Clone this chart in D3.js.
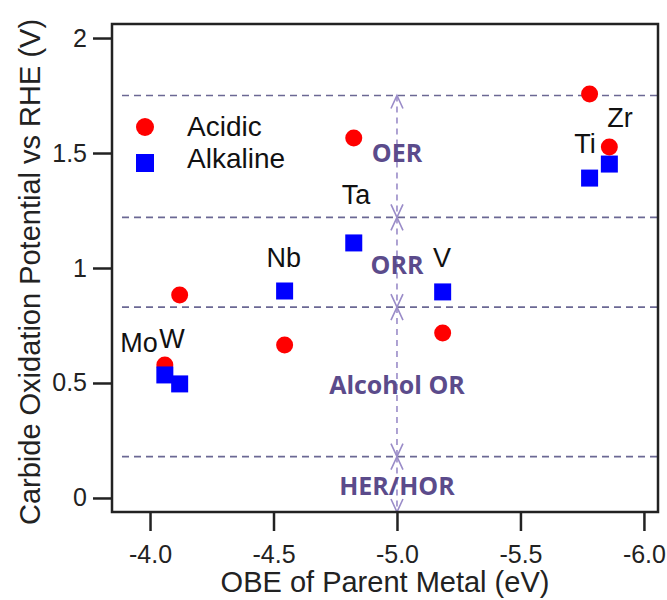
<!DOCTYPE html>
<html>
<head>
<meta charset="utf-8">
<script src="https://cdnjs.cloudflare.com/ajax/libs/d3/7.8.5/d3.min.js"></script>
<style>
  body { margin: 0; background: #fff; }
  text { font-family: "Liberation Sans", Arial, sans-serif; }
</style>
</head>
<body>
<script>
var w = 667,
    h = 600;

// metals and their OBE (eV)
var metals = ["Mo", "W", "Nb", "Ta", "V", "Ti", "Zr"];
var obe = [-4.06, -4.12, -4.545, -4.825, -5.185, -5.78, -5.86];
// carbide oxidation potential vs RHE (V)
var acidic = [0.578, 0.883, 0.665, 1.565, 0.717, 1.757, 1.526];
var alkaline = [0.535, 0.496, 0.9, 1.109, 0.896, 1.391, 1.452];

// label anchors (data units)
var labelX = [-3.955, -4.089, -4.542, -4.834, -5.182, -5.761, -5.903];
var labelY = [0.635, 0.652, 1.004, 1.278, 1.004, 1.5, 1.613];

// reaction potential levels and the regions between them
var levels = [1.75, 1.22, 0.83, 0.18];
var regions = ["OER", "ORR", "Alcohol OR", "HER/HOR"];
var regionY = [1.50, 1.013, 0.49, 0.052];
var arrowX = -5.0;

var xTicks = [-4.0, -4.5, -5.0, -5.5, -6.0];
var yTicks = [0, 0.5, 1, 1.5, 2];

var pLeft = 112, pRight = 658, pTop = 24, pBottom = 512;

var x = d3.scaleLinear().domain([-3.846, -6.057]).range([pLeft, pRight]);
var y = d3.scaleLinear().domain([-0.061, 2.061]).range([pBottom, pTop]);

var svg = d3.select("body").append("svg")
    .attr("width", w)
    .attr("height", h);

// dashed potential lines
svg.selectAll("line.level")
    .data(levels)
    .enter().append("line")
    .attr("class", "level")
    .attr("x1", pLeft + 10)
    .attr("x2", pRight)
    .attr("y1", function(d) { return y(d); })
    .attr("y2", function(d) { return y(d); })
    .attr("stroke", "#6b6894")
    .attr("stroke-width", 1.6)
    .attr("stroke-dasharray", "7,5");

// vertical double arrows between levels
var ends = levels.concat([y.invert(pBottom)]);
var ax = x(arrowX);
for (var i = 0; i < levels.length; i++) {
  var y1 = y(ends[i]), y2 = y(ends[i + 1]);
  svg.append("line")
      .attr("x1", ax).attr("x2", ax)
      .attr("y1", y1).attr("y2", y2)
      .attr("stroke", "#9a8cc8")
      .attr("stroke-width", 1.6)
      .attr("stroke-dasharray", "6,5");
  svg.append("path")
      .attr("d", "M" + (ax - 6) + "," + (y1 + 13) + "L" + ax + "," + y1 + "L" + (ax + 6) + "," + (y1 + 13))
      .attr("fill", "none").attr("stroke", "#9a8cc8").attr("stroke-width", 1.6);
  svg.append("path")
      .attr("d", "M" + (ax - 6) + "," + (y2 - 13) + "L" + ax + "," + y2 + "L" + (ax + 6) + "," + (y2 - 13))
      .attr("fill", "none").attr("stroke", "#9a8cc8").attr("stroke-width", 1.6);
}

svg.selectAll("text.region")
    .data(regions)
    .enter().append("text")
    .attr("class", "region")
    .attr("x", ax)
    .attr("y", function(d, i) { return y(regionY[i]); })
    .attr("dy", "0.36em")
    .attr("text-anchor", "middle")
    .style("font-family", "'Open Sans', sans-serif")
    .style("font-weight", "bold")
    .style("font-size", "25px")
    .attr("fill", "#5b4b8b")
    .text(function(d) { return d; });

// points: squares first, circles, then Mo/W squares on top
var pts = svg.append("g");
pts.selectAll("rect.back")
    .data(alkaline.slice(2))
    .enter().append("rect")
    .attr("class", "back")
    .attr("x", function(d, i) { return x(obe[i + 2]) - 8.5; })
    .attr("y", function(d) { return y(d) - 8.5; })
    .attr("width", 17)
    .attr("height", 17)
    .attr("fill", "#0000ff");
pts.selectAll("circle")
    .data(acidic)
    .enter().append("circle")
    .attr("cx", function(d, i) { return x(obe[i]); })
    .attr("cy", function(d) { return y(d); })
    .attr("r", 8.5)
    .attr("fill", "#ff0000");
pts.selectAll("rect.front")
    .data(alkaline.slice(0, 2))
    .enter().append("rect")
    .attr("class", "front")
    .attr("x", function(d, i) { return x(obe[i]) - 8.5; })
    .attr("y", function(d) { return y(d) - 8.5; })
    .attr("width", 17)
    .attr("height", 17)
    .attr("fill", "#0000ff");

svg.selectAll("text.metal")
    .data(metals)
    .enter().append("text")
    .attr("class", "metal")
    .attr("x", function(d, i) { return x(labelX[i]); })
    .attr("y", function(d, i) { return y(labelY[i]); })
    .attr("text-anchor", "middle")
    .style("font-size", "27px")
    .attr("fill", "#111")
    .text(function(d) { return d; });

// legend
svg.append("circle").attr("cx", 145).attr("cy", 127).attr("r", 9).attr("fill", "#ff0000");
svg.append("rect").attr("x", 136).attr("y", 154).attr("width", 18).attr("height", 18).attr("fill", "#0000ff");
svg.append("text").attr("x", 187).attr("y", 136).style("font-size", "28px").attr("fill", "#111").text("Acidic");
svg.append("text").attr("x", 187).attr("y", 168).style("font-size", "28px").attr("fill", "#111").text("Alkaline");

// frame
svg.append("rect")
    .attr("x", pLeft).attr("y", pTop)
    .attr("width", pRight - pLeft).attr("height", pBottom - pTop)
    .attr("fill", "none")
    .attr("stroke", "#222")
    .attr("stroke-width", 2.5);

// axes
var yAxis = d3.axisLeft(y).tickValues(yTicks).tickSize(19).tickPadding(6)
    .tickFormat(function(d) { return String(d); });
var gy = svg.append("g").attr("transform", "translate(" + pLeft + ",0)").call(yAxis);
gy.select(".domain").remove();
gy.selectAll("line").attr("stroke", "#222").attr("stroke-width", 2.5);
gy.selectAll("text").style("font-size", "25px").attr("fill", "#222")
    .style("font-family", "'Liberation Sans', Arial, sans-serif");

var xAxis = d3.axisBottom(x).tickValues(xTicks).tickSize(19).tickPadding(14)
    .tickFormat(function(d) { return d.toFixed(1); });
var gx = svg.append("g").attr("transform", "translate(0," + pBottom + ")").call(xAxis);
gx.select(".domain").remove();
gx.selectAll("line").attr("stroke", "#222").attr("stroke-width", 2.5);
gx.selectAll("text").style("font-size", "25px").attr("fill", "#222")
    .style("font-family", "'Liberation Sans', Arial, sans-serif");

svg.append("text")
    .attr("x", 385)
    .attr("y", 592)
    .attr("text-anchor", "middle")
    .style("font-size", "29px")
    .attr("fill", "#222")
    .text("OBE of Parent Metal (eV)");

svg.append("text")
    .attr("transform", "translate(40,272) rotate(-90)")
    .attr("text-anchor", "middle")
    .style("font-size", "29px")
    .attr("fill", "#222")
    .text("Carbide Oxidation Potential vs RHE (V)");
</script>
</body>
</html>
